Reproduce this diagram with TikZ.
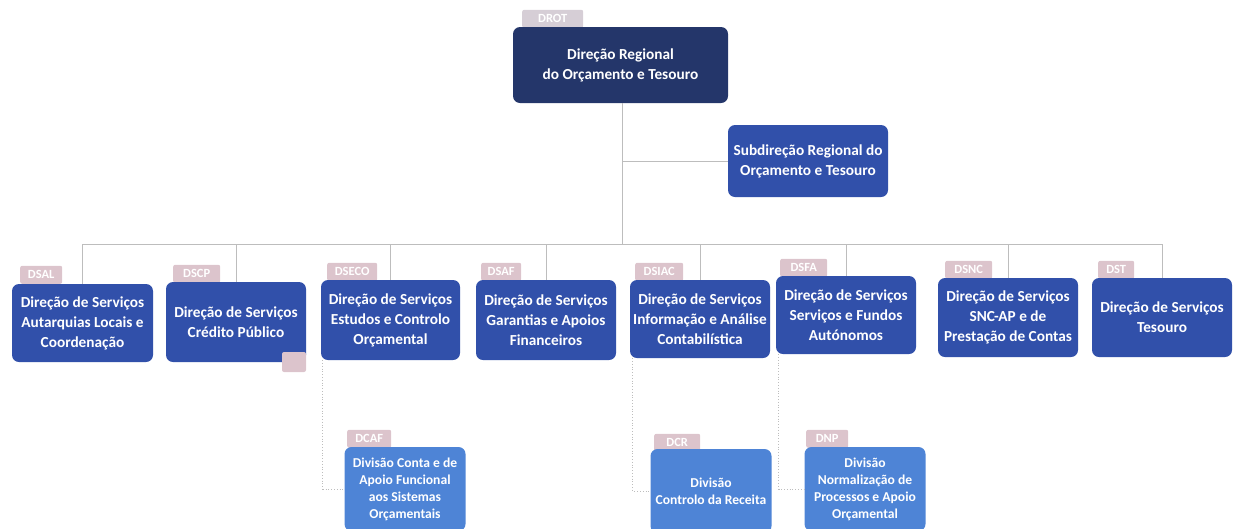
\documentclass[tikz,border=0pt]{standalone}
\usepackage{fontspec}
\setmainfont{Carlito}
\definecolor{navy}{HTML}{24366A}
\definecolor{midblue}{HTML}{3150AA}
\definecolor{lightblue}{HTML}{4E84D6}
\definecolor{tagpink}{HTML}{DCC4CC}
\definecolor{taggray}{HTML}{D6CED6}
\definecolor{linegray}{HTML}{BDBDBD}
\begin{document}
\begin{tikzpicture}[x=1pt,y=-1pt,
  box/.style={rounded corners=7pt, text=white, align=center, inner sep=0pt,
    font=\bfseries\fontsize{15.3}{20}\selectfont},
  dirbox/.style={box, fill=midblue, minimum width=140pt, minimum height=80pt},
  divbox/.style={box, fill=lightblue, minimum width=121pt, minimum height=84pt,
    font=\bfseries\fontsize{13.6}{17}\selectfont},
  tag/.style={fill=tagpink, text=white, rounded corners=2pt, inner sep=0pt,
    minimum height=18pt, anchor=south west, font=\bfseries\fontsize{12.5}{13}\selectfont},
  conn/.style={draw=linegray, line width=0.7pt},
  subconn/.style={draw=linegray, line width=0.8pt, dotted}]
\useasboundingbox (0,0) rectangle (1238,528);
% tags
\node[tag, fill=taggray, minimum width=61pt] (tdrot) at (522,28) {DROT};
\node[tag, minimum width=42pt] (tdsal) at (20,284) {DSAL};
\node[tag, minimum width=47pt] (tdscp) at (173,283) {DSCP};
\node[tag, minimum width=50pt] (tdseco) at (327,281) {DSECO};
\node[tag, minimum width=40pt] (tdsaf) at (481,281) {DSAF};
\node[tag, minimum width=48pt] (tdsiac) at (635,281) {DSIAC};
\node[tag, minimum width=47pt] (tdsfa) at (780,277) {DSFA};
\node[tag, minimum width=47pt] (tdsnc) at (945,279) {DSNC};
\node[tag, minimum width=36pt] (tdst) at (1098,279) {DST};
\node[tag, minimum width=44pt] (tdcaf) at (347,448) {DCAF};
\node[tag, minimum width=46pt] (tdcr) at (654,452) {DCR};
\node[tag, minimum width=42pt] (tdnp) at (806,448) {DNP};
% boxes
\node[box, fill=navy, minimum width=215pt, minimum height=76pt] (drot) at (620.5,65)
  {Direção Regional\\do Orçamento e Tesouro};
\node[box, fill=midblue, minimum width=160pt, minimum height=72pt] (sub) at (808,161)
  {Subdireção Regional do\\Orçamento e Tesouro};
\node[dirbox, minimum width=141pt, minimum height=78pt] (dsal) at (82.5,323) {Direção de Serviços\\Autarquias Locais e\\Coordenação};
\node[dirbox] (dscp) at (236,322) {Direção de Serviços\\Crédito Público};
\node[dirbox, minimum width=139pt] (dseco) at (390.5,320) {Direção de Serviços\\Estudos e Controlo\\Orçamental};
\node[dirbox] (dsaf) at (546,320) {Direção de Serviços\\Garantias e Apoios\\Financeiros};
\node[dirbox, minimum height=78pt] (dsiac) at (700,319) {Direção de Serviços\\Informação e Análise\\Contabilística};
\node[dirbox, minimum height=78pt] (dsfa) at (846,315) {Direção de Serviços\\Serviços e Fundos\\Autónomos};
\node[dirbox, minimum height=79pt] (dsnc) at (1008,317.5) {Direção de Serviços\\SNC-AP e de\\Prestação de Contas};
\node[dirbox, minimum height=79pt] (dst) at (1162,317.5) {Direção de Serviços\\Tesouro};
\node[fill=tagpink, minimum width=24pt, minimum height=20pt, inner sep=0pt, rounded corners=2pt] (dscpmark) at (294,362) {};
\node[divbox] (dcaf) at (405,489) {Divisão Conta e de\\Apoio Funcional\\aos Sistemas\\Orçamentais};
\node[divbox] (dcr) at (711,491) {Divisão\\Controlo da Receita};
\node[divbox] (dnp) at (865,489) {Divisão\\Normalização de\\Processos e Apoio\\Orçamental};
% connectors
\coordinate (bus) at (622,244);
\coordinate (busL) at (dsal.north |- bus);
\coordinate (busR) at (dst.north |- bus);
\draw[conn] (drot.south -| bus) -- (bus);
\draw[conn] (busL) -- (busR);
\draw[conn] (sub.west) -- (sub.west -| bus);
\foreach \n in {dsal,dscp,dseco,dsaf,dsiac,dsfa,dsnc,dst}
  \draw[conn] (\n.north |- bus) -- (\n.north);
\draw[subconn] ([xshift=2pt]dseco.south west) |- (dcaf.west);
\draw[subconn] ([xshift=3pt]dsiac.south west) |- (dcr.west);
\draw[subconn] ([xshift=3pt]dsfa.south west) |- (dnp.west);
\end{tikzpicture}
\end{document}
